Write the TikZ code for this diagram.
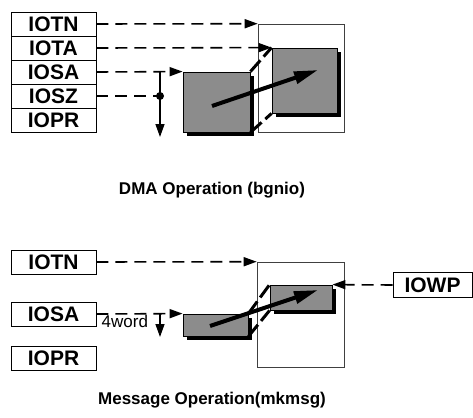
\documentclass[tikz,border=0pt]{standalone}
\usepackage{fontspec}
\setmainfont{Liberation Sans}
\usetikzlibrary{arrows.meta,positioning,shadows,calc}

\begin{document}
\begin{tikzpicture}[
    x=1pt, y=-1pt,
    >={Triangle[length=13pt,width=9pt]},
    reg/.style={rectangle, draw, line width=0.8pt, minimum width=85pt, minimum height=24pt,
                inner sep=0pt, font=\fontsize{21}{24}\selectfont\bfseries},
    mem/.style={rectangle, draw=black!75, line width=0.6pt, inner sep=0pt},
    buf/.style={rectangle, draw, line width=0.8pt, fill=black!45, inner sep=0pt,
                general shadow={fill=black, shadow xshift=4pt, shadow yshift=-4pt}},
    dsh/.style={line width=1.6pt, dash pattern=on 12pt off 7pt},
    edge/.style={line width=3pt, dash pattern=on 15pt off 5pt},
    mv/.style={->, line width=4pt, >={Triangle[length=24pt,width=12pt]}},
    lbl/.style={font=\fontsize{17}{18}\selectfont, inner sep=1pt},
    ttl/.style={font=\fontsize{17}{20}\selectfont\bfseries}
  ]
    \useasboundingbox (0,0) rectangle (473,417);

    %--- DMA operation (top) ---
    \node[reg] (tn1) at (53.5, 24) {IOTN};
    \node[reg] (ta1) at (53.5, 48) {IOTA};
    \node[reg] (sa1) at (53.5, 72) {IOSA};
    \node[reg] (sz1) at (53.5, 96) {IOSZ};
    \node[reg] (pr1) at (53.5,120) {IOPR};

    \node[mem, minimum width=86pt, minimum height=108pt] (mem1) at (301,78) {};
    \node[buf, minimum width=67pt, minimum height=60pt] (src1) at (216.5,102) {};
    \node[buf, minimum width=65pt, minimum height=65pt] (dst1) at (304.5,80.5) {};

    \coordinate (j1) at (160,72);
    \coordinate (d1) at (160,96);
    \coordinate (e1) at (160,137);

    \draw[->, dsh] (tn1.east) -- (mem1.north west);
    \draw[->, dsh] (ta1.east) -- (dst1.north west);
    \draw[->, dsh] (sa1.east) -- (src1.north west);
    \draw[dsh] (sz1.east) -- (d1);
    \fill (d1) circle (4pt);
    \draw[->, line width=1.4pt] (j1) -- (e1);

    % perspective edges and transfer
    \draw[edge] (src1.north east) -- (dst1.north west);
    \draw[edge] (src1.south east) -- (dst1.south west);
    \coordinate (a1) at (212,106);
    \coordinate (b1) at (318,70);
    \draw[mv] (a1) -- (b1);

    \node[ttl] (t1) at (212,190) {DMA Operation (bgnio)};

    %--- Message operation (bottom) ---
    \node[reg] (tn2) at (53.5,262) {IOTN};
    \node[reg] (sa2) at (53.5,314) {IOSA};
    \node[reg] (pr2) at (53.5,358) {IOPR};
    \node[reg, minimum width=79pt, minimum height=25pt] (wp2) at (432.5,285) {IOWP};

    \node[mem, minimum width=87pt, minimum height=105pt] (mem2) at (300.5,314.5) {};
    \node[buf, minimum width=65pt, minimum height=22pt] (src2) at (215.5,325) {};
    \node[buf, minimum width=62pt, minimum height=25pt] (dst2) at (301,297.5) {};

    \coordinate (j2) at (160,314);
    \coordinate (e2) at (160,337);

    \draw[->, dsh] (tn2.east) -- (mem2.north west);
    \draw[->, dsh] (sa2.east) -- node[lbl, below, pos=0.33]{4word} (src2.north west);
    \draw[->, line width=1.4pt] (j2) -- (e2);
    \draw[->, dsh] (wp2.west) -- (dst2.north east);

    % perspective edges and transfer
    \draw[edge] (src2.north east) -- (dst2.north west);
    \draw[edge] (src2.south east) -- (dst2.south west);
    \coordinate (a2) at (210,326);
    \coordinate (b2) at (318,290);
    \draw[mv] (a2) -- (b2);

    \node[ttl] (t2) at (212,400) {Message Operation(mkmsg)};
\end{tikzpicture}
\end{document}
